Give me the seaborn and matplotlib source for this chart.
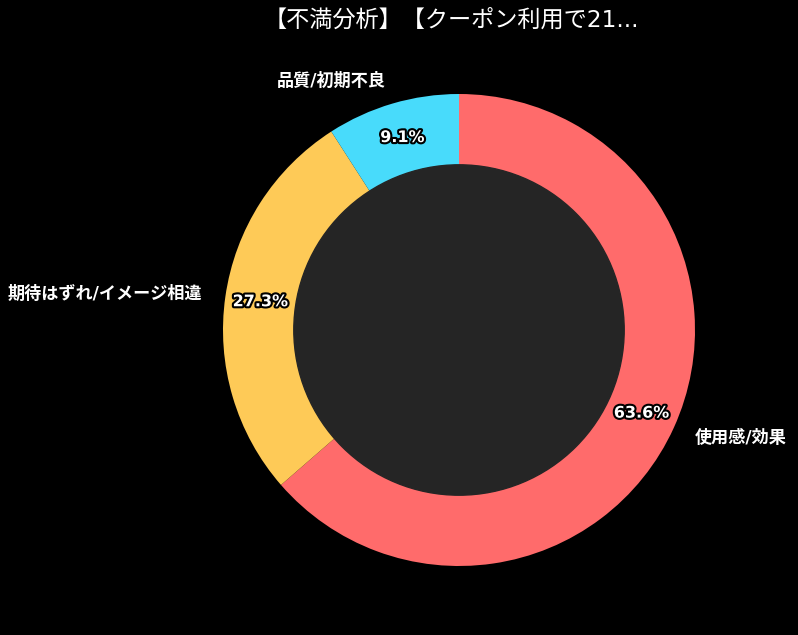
import matplotlib
matplotlib.use('Agg')
import matplotlib.pyplot as plt
import matplotlib.patheffects as pe
import seaborn as sns

# Data
labels = ['使用感/効果', '期待はずれ/イメージ相違', '品質/初期不良']
shares = [63.6, 27.3, 9.1]
colors = ['#FF6B6B', '#FECA57', '#48DBFB']
title = '【不満分析】【クーポン利用で21...'

sns.set_theme(style='dark')
plt.rcParams['font.family'] = ['DejaVu Sans', 'Noto Sans CJK JP']

fig = plt.figure(figsize=(7.98, 6.35), dpi=100, facecolor='black')
# axes centred on the donut (459, 330 px), radius ~236 px
r_px = 236
lim = 1.25
w = 2 * lim * r_px / 798
h = 2 * lim * r_px / 635
cx, cy = 459 / 798, 1 - 330 / 635
ax = fig.add_axes([cx - w / 2, cy - h / 2, w, h])
ax.set_facecolor('black')

wedges, texts, autotexts = ax.pie(
    shares, labels=labels, colors=sns.color_palette(colors),
    startangle=90, counterclock=False, autopct='%1.1f%%',
    pctdistance=0.85, labeldistance=1.1,
    wedgeprops=dict(edgecolor='none'),
    textprops=dict(color='white', fontsize=12.3, fontweight='bold'))

for t in autotexts:
    t.set_fontsize(11.5)
    t.set_path_effects([pe.withStroke(linewidth=3, foreground='black')])

centre = plt.Circle((0, 0), 0.7, color='#252525')
ax.add_artist(centre)

ax.set_xlim(-lim, lim)
ax.set_ylim(-lim, lim)
ax.set_aspect('equal')
ax.axis('off')

fig.text(451 / 798, 1 - 20 / 635, title, color='white', fontsize=16.7,
         ha='center', va='center')

fig.savefig('out.png', dpi=100, facecolor='black')
